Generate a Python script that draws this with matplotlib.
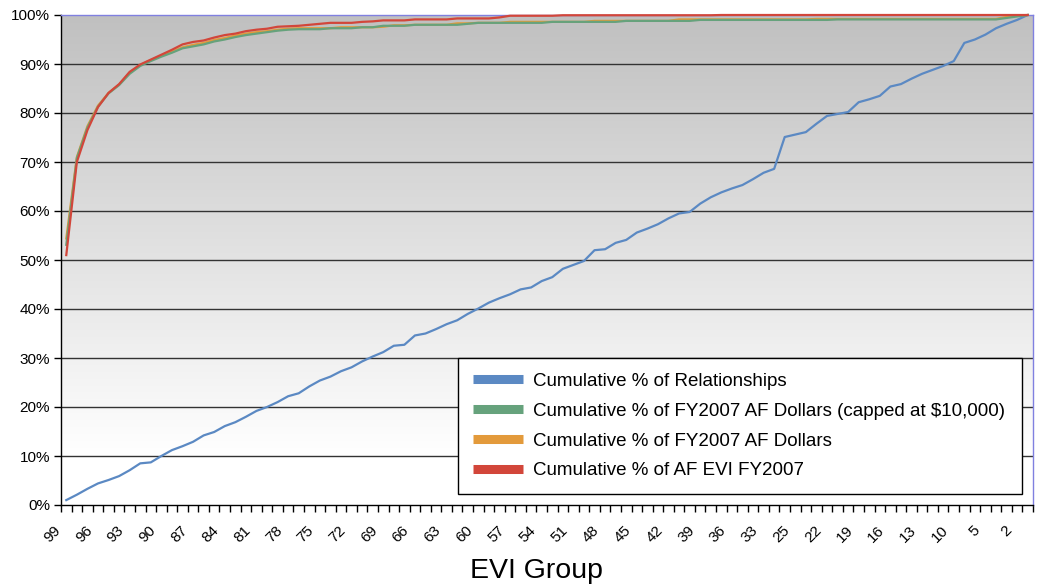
import numpy as np
import matplotlib
matplotlib.use("Agg")
import matplotlib.pyplot as plt
import matplotlib.transforms as mtransforms
from matplotlib.lines import Line2D

plt.rcParams['font.family'] = ['Liberation Sans', 'DejaVu Sans']

groups = ['99', '98', '97', '96', '95', '94', '93', '92', '91', '90', '89', '88', '87', '86', '85',
          '84', '83', '82', '81', '80', '79', '78', '77', '76', '75', '74', '73', '72', '71', '70',
          '69', '68', '67', '66', '65', '64', '63', '62', '61', '60', '59', '58', '57', '56', '55',
          '54', '53', '52', '51', '50', '49', '48', '47', '46', '45', '44', '43', '42', '41', '40',
          '39', '38', '37', '36', '35', '34', '33', '31', '28', '25', '24', '23', '22', '21', '20',
          '19', '18', '17', '16', '15', '14', '13', '12', '11', '10', '8', '7', '5', '4', '3',
          '2', '1']

relationships = [1.0, 2.1, 3.3, 4.4, 5.1, 5.9, 7.1, 8.5, 8.7, 10.0, 11.2, 12.0, 12.9, 14.2, 14.9,
                 16.1, 16.9, 18.0, 19.2, 20.0, 21.0, 22.2, 22.8, 24.2, 25.4, 26.2, 27.3, 28.1, 29.3, 30.3,
                 31.2, 32.5, 32.7, 34.6, 35.0, 35.9, 36.9, 37.7, 39.0, 40.1, 41.3, 42.2, 43.0, 44.0, 44.4,
                 45.7, 46.5, 48.2, 49.0, 49.8, 52.0, 52.2, 53.5, 54.1, 55.6, 56.4, 57.3, 58.5, 59.5, 59.8,
                 61.5, 62.8, 63.8, 64.6, 65.3, 66.5, 67.8, 68.6, 75.1, 75.6, 76.1, 77.8, 79.4, 79.8, 80.2,
                 82.2, 82.8, 83.5, 85.4, 85.9, 87.0, 88.0, 88.8, 89.6, 90.6, 94.3, 95.0, 96.0, 97.3, 98.2,
                 99.0, 100.0]

dollars_capped = [53.1, 70.8, 77.0, 81.3, 84.0, 85.7, 88.0, 89.6, 90.6, 91.5, 92.3, 93.2, 93.6, 94.0, 94.6,
                  95.0, 95.5, 95.9, 96.2, 96.5, 96.8, 97.0, 97.1, 97.1, 97.1, 97.3, 97.3, 97.3, 97.5, 97.5,
                  97.8, 97.8, 97.8, 98.0, 98.0, 98.0, 98.0, 98.0, 98.2, 98.4, 98.4, 98.4, 98.4, 98.4, 98.4,
                  98.4, 98.6, 98.6, 98.6, 98.6, 98.6, 98.6, 98.6, 98.8, 98.8, 98.8, 98.8, 98.8, 98.8, 98.8,
                  99.0, 99.0, 99.0, 99.0, 99.0, 99.0, 99.0, 99.0, 99.0, 99.0, 99.0, 99.0, 99.0, 99.1, 99.1,
                  99.1, 99.1, 99.1, 99.1, 99.1, 99.1, 99.1, 99.1, 99.1, 99.1, 99.1, 99.1, 99.1, 99.1, 99.4,
                  99.7, 100.0]

dollars = [54.4, 71.0, 77.3, 81.5, 84.1, 85.8, 88.2, 89.8, 90.8, 91.7, 92.5, 93.4, 93.9, 94.3, 94.9,
           95.3, 95.8, 96.2, 96.5, 96.7, 97.0, 97.2, 97.3, 97.3, 97.3, 97.3, 97.5, 97.5, 97.5, 97.5,
           97.6, 97.9, 97.9, 98.0, 98.0, 98.0, 98.0, 98.3, 98.3, 98.4, 98.4, 98.4, 98.6, 98.6, 98.6,
           98.6, 98.6, 98.6, 98.6, 98.6, 98.8, 98.8, 98.8, 98.8, 98.8, 98.8, 98.8, 98.8, 99.1, 99.1,
           99.1, 99.1, 99.1, 99.1, 99.1, 99.1, 99.1, 99.1, 99.1, 99.1, 99.1, 99.2, 99.2, 99.2, 99.2,
           99.2, 99.2, 99.2, 99.2, 99.2, 99.2, 99.2, 99.2, 99.2, 99.2, 99.2, 99.2, 99.2, 99.2, 99.6,
           99.9, 100.0]

evi = [51.0, 70.0, 76.5, 81.2, 84.1, 85.9, 88.4, 89.9, 90.9, 91.9, 92.9, 94.0, 94.5, 94.8, 95.4,
       95.9, 96.2, 96.7, 97.0, 97.2, 97.6, 97.7, 97.8, 98.0, 98.2, 98.4, 98.4, 98.4, 98.6, 98.7,
       98.9, 98.9, 98.9, 99.1, 99.1, 99.1, 99.1, 99.3, 99.3, 99.3, 99.3, 99.5, 99.85, 99.85, 99.85,
       99.85, 99.85, 99.95, 99.95, 99.95, 99.95, 99.95, 99.95, 99.95, 99.95, 99.95, 99.95, 99.95, 99.95, 99.95,
       99.95, 99.95, 100.0, 100.0, 100.0, 100.0, 100.0, 100.0, 100.0, 100.0, 100.0, 100.0, 100.0, 100.0, 100.0,
       100.0, 100.0, 100.0, 100.0, 100.0, 100.0, 100.0, 100.0, 100.0, 100.0, 100.0, 100.0, 100.0, 100.0, 100.0,
       100.0, 100.0]

series_names = ['Cumulative % of Relationships',
                'Cumulative % of FY2007 AF Dollars (capped at $10,000)',
                'Cumulative % of FY2007 AF Dollars',
                'Cumulative % of AF EVI FY2007']
colors = ['#5B89C3', '#66A27C', '#E39A3B', '#D2463A']

x = np.arange(len(groups))

fig = plt.figure(figsize=(10.42, 5.86), dpi=100)
ax = fig.add_axes([61 / 1042, 1 - 505 / 586, (1033 - 61) / 1042, (505 - 15) / 586])

# gradient background (white at bottom, grey at top)
grad = np.linspace(0, 1, 256).reshape(-1, 1)
vals = np.clip(192 + (255 - 192) * (1 - grad) / 0.9, 192, 255) / 255.0
img = np.dstack([vals, vals, vals])
ax.imshow(img, extent=[-0.5, len(groups) - 0.5, 0, 100], aspect='auto', origin='lower',
          zorder=0, interpolation='bilinear')
ax.set_xlim(-0.5, len(groups) - 0.5)
ax.set_ylim(0, 100)

for yv in range(10, 100, 10):
    ax.axhline(yv, color='#333333', lw=1.0, zorder=1)

lw = 1.6
ax.plot(x, relationships, color=colors[0], lw=lw, zorder=3, clip_on=False)
ax.plot(x, dollars, color=colors[2], lw=lw, zorder=3, clip_on=False)
ax.plot(x, dollars_capped, color=colors[1], lw=lw, zorder=4, clip_on=False)
ax.plot(x, evi, color=colors[3], lw=lw, zorder=5, clip_on=False)

ax.spines['left'].set_color('black')
ax.spines['bottom'].set_color('black')
ax.spines['top'].set_color('#8080E0')
ax.spines['right'].set_color('#8080E0')
for s in ax.spines.values():
    s.set_linewidth(1.0)
    s.set_zorder(2)

ax.set_yticks(range(0, 101, 10))
ax.set_yticklabels([f'{v}%' for v in range(0, 101, 10)], fontsize=11)
ax.tick_params(axis='y', direction='out', length=5, width=1, color='black', pad=3)

ax.set_xticks(np.arange(-0.5, len(groups), 1.0), minor=True)
ax.set_xticks(x[::3])
ax.set_xticklabels(groups[::3], rotation=45, ha='right', va='center',
                   rotation_mode='anchor', fontsize=11)
ax.tick_params(axis='x', which='minor', direction='out', length=5, width=1, color='black')
ax.tick_params(axis='x', which='major', length=0, pad=17)
offset = mtransforms.ScaledTranslation(-8 / 100, 0, fig.dpi_scale_trans)
for lab in ax.get_xticklabels():
    lab.set_transform(lab.get_transform() + offset)

fig.text(537 / 1042, 1 - 571 / 586, 'EVI Group', fontsize=20.5, ha='center', va='center')

handles = [Line2D([0], [0], color=c, lw=6.5, solid_capstyle='butt') for c in colors]
leg = ax.legend(handles, series_names, loc='upper left',
                bbox_to_anchor=((458 - 61) / 972, (505 - 492) / 490, (1022 - 458) / 972, (492 - 358) / 490),
                mode='expand', fontsize=13.5, frameon=True, fancybox=False, framealpha=1,
                edgecolor='black', handlelength=2.67, handletextpad=0.53, labelspacing=0.68,
                borderpad=0.78, borderaxespad=0)
leg.get_frame().set_linewidth(1.0)
leg.set_zorder(10)

fig.savefig('out.png', dpi=100)
